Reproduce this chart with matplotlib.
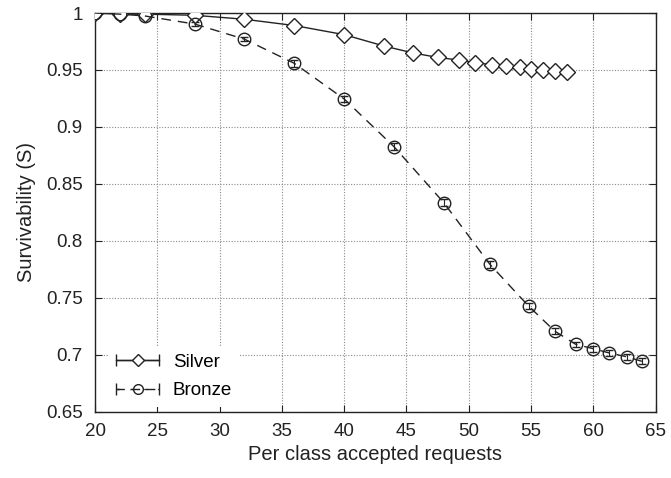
"""
Survivability vs. per class accepted requests for the Silver and Bronze
service classes, with small confidence intervals on each point.
"""

import numpy as np
import matplotlib
matplotlib.use("Agg")
import matplotlib.pyplot as plt
from matplotlib.ticker import FuncFormatter
from matplotlib.legend_handler import HandlerErrorbar

OUTPUT_FILE = "out.png"

# Silver class (diamonds, solid line)
silver_x = [20, 22, 24, 28, 32, 36, 40, 43.2, 45.5, 47.5, 49.2, 50.5, 51.9,
            53.0, 54.1, 55.0, 56.0, 56.9, 57.9]
silver_y = [1.0, 0.999, 0.999, 0.998, 0.9945, 0.989, 0.981, 0.971, 0.965,
            0.961, 0.9587, 0.9565, 0.9545, 0.9535, 0.9522, 0.9508, 0.9499,
            0.9488, 0.9479]
silver_err = [0.0005, 0.0005, 0.0005, 0.001, 0.001, 0.0015, 0.0015, 0.0015,
              0.0015, 0.0015, 0.0015, 0.0015, 0.0015, 0.0015, 0.0015, 0.0015,
              0.0015, 0.0015, 0.0015]

# Bronze class (circles, dashed line)
bronze_x = [20, 22, 24, 28, 32, 36, 40, 44.0, 48.0, 51.7, 54.8, 56.9, 58.6,
            60.0, 61.3, 62.7, 63.9]
bronze_y = [1.0, 0.999, 0.9974, 0.9903, 0.977, 0.9558, 0.9245, 0.8826,
            0.8334, 0.7793, 0.7427, 0.7207, 0.709, 0.7052, 0.7014, 0.6981,
            0.6941]
bronze_err = [0.0005, 0.001, 0.001, 0.002, 0.002, 0.003, 0.003, 0.003, 0.003,
              0.003, 0.003, 0.003, 0.0025, 0.0025, 0.0025, 0.0025, 0.0025]

x_ticks = np.arange(20, 66, 5)
y_ticks = np.arange(0.65, 1.001, 0.05)


def plot_survivability():
    plt.rcParams["font.family"] = ["Liberation Sans", "DejaVu Sans"]
    plt.rcParams["font.size"] = 13.5

    fig = plt.figure(figsize=(6.71, 4.78), dpi=100)
    ax = fig.add_axes([0.1416, 0.139, 0.8354, 0.8338])

    ink = "#222222"

    ax.errorbar(silver_x, silver_y, yerr=silver_err, color=ink, lw=1.0,
                marker="D", ms=8, mfc="white", mec=ink, mew=1.0,
                capsize=3, elinewidth=0.8, capthick=0.8, zorder=3)
    ax.errorbar(bronze_x, bronze_y, yerr=bronze_err, color=ink, lw=1.0,
                dashes=(7, 5), marker="o", ms=9, mfc="none", mec=ink,
                mew=1.0, capsize=3, elinewidth=0.8, capthick=0.8, zorder=3)

    # Proxy handles so the legend shows horizontal bars with end caps
    silver_h = ax.errorbar([np.nan], [np.nan], xerr=[1], color=ink, lw=1.0,
                           marker="D", ms=6, mfc="white", mec=ink,
                           capsize=4, elinewidth=1.0)
    bronze_h = ax.errorbar([np.nan], [np.nan], xerr=[1], color=ink, lw=1.0,
                           dashes=(6, 5), marker="o", ms=7, mfc="none",
                           mec=ink, capsize=4, elinewidth=1.0)
    bronze_h[2][0].set_linestyle((0, (2.5, 7.5)))

    ax.set_xlim(20, 65)
    ax.set_ylim(0.65, 1.0)
    ax.set_xticks(x_ticks)
    ax.set_yticks(y_ticks)
    ax.yaxis.set_major_formatter(FuncFormatter(lambda v, p: f"{v:g}"))
    ax.tick_params(direction="in", length=5, top=True, right=True,
                   colors=ink, labelcolor=ink, labelsize=13.5)
    ax.tick_params(axis="x", pad=8)
    ax.tick_params(axis="y", pad=9)
    for side in ax.spines.values():
        side.set_color(ink)
        side.set_linewidth(1.0)

    ax.grid(True, linestyle=(0, (1, 1.5)), color="#8a8a8a", linewidth=0.8)
    ax.set_axisbelow(True)

    ax.set_xlabel("Per class accepted requests", color=ink, fontsize=14.5,
                  labelpad=4)
    ax.set_ylabel("Survivability (S)", color=ink, fontsize=14.5, labelpad=7)

    leg = ax.legend([silver_h, bronze_h], ["Silver", "Bronze"],
                    loc="lower left", bbox_to_anchor=(0.008, -0.012),
                    handlelength=2.3, handletextpad=0.7, labelspacing=0.63,
                    borderpad=0.4, frameon=True, fancybox=False,
                    handler_map={type(silver_h): HandlerErrorbar(xerr_size=1.15)})
    leg.get_frame().set_facecolor("white")
    leg.get_frame().set_edgecolor("none")
    leg.get_frame().set_alpha(1.0)
    leg.set_zorder(2.2)  # keep the spines drawn over the white box

    fig.savefig(OUTPUT_FILE, dpi=100)
    plt.close(fig)


if __name__ == "__main__":
    plot_survivability()
